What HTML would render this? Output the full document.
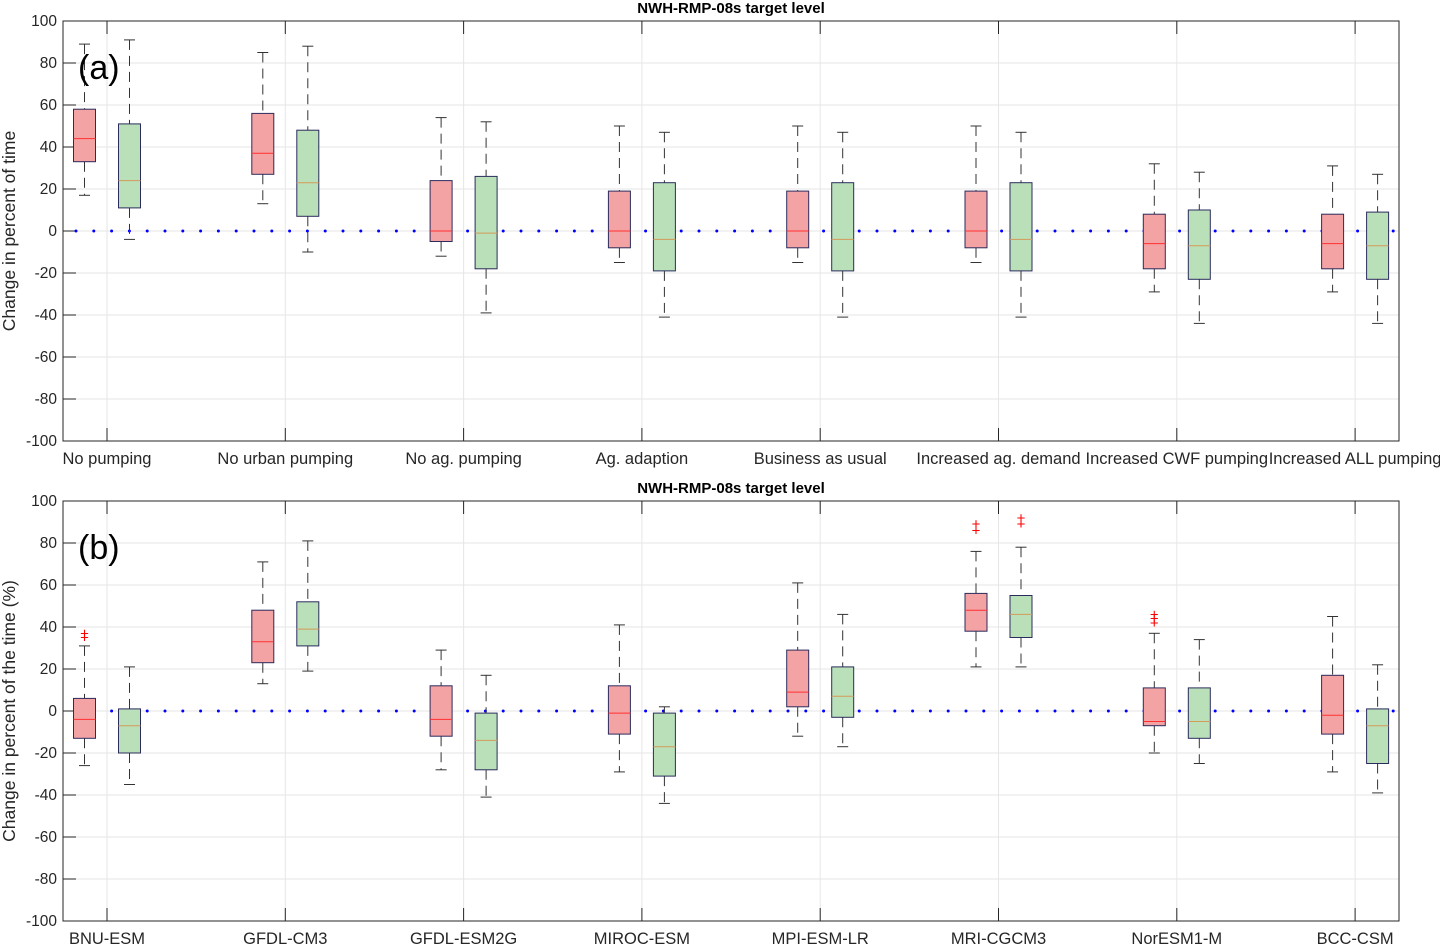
<!DOCTYPE html>
<html><head><meta charset="utf-8"><style>
body{margin:0;background:#fff;font-family:"Liberation Sans",Arial,sans-serif}
svg text{font-family:"Liberation Sans",Arial,sans-serif}
</style></head><body>
<svg id="c" width="1440" height="945" xmlns="http://www.w3.org/2000/svg"></svg>
<script>
const catsA=["No pumping","No urban pumping","No ag. pumping","Ag. adaption","Business as usual","Increased ag. demand","Increased CWF pumping","Increased ALL pumping"];
const catsB=["BNU-ESM","GFDL-CM3","GFDL-ESM2G","MIROC-ESM","MPI-ESM-LR","MRI-CGCM3","NorESM1-M","BCC-CSM"];
// [whiskerLow, q1, median, q3, whiskerHigh]
const redA=[[17,33,44,58,89],[13,27,37,56,85],[-12,-5,0,24,54],[-15,-8,0,19,50],[-15,-8,0,19,50],[-15,-8,0,19,50],[-29,-18,-6,8,32],[-29,-18,-6,8,31]];
const greenA=[[-4,11,24,51,91],[-10,7,23,48,88],[-39,-18,-1,26,52],[-41,-19,-4,23,47],[-41,-19,-4,23,47],[-41,-19,-4,23,47],[-44,-23,-7,10,28],[-44,-23,-7,9,27]];
const redB=[[-26,-13,-4,6,31],[13,23,33,48,71],[-28,-12,-4,12,29],[-29,-11,-1,12,41],[-12,2,9,29,61],[21,38,48,56,76],[-20,-7,-5,11,37],[-29,-11,-2,17,45]];
const greenB=[[-35,-20,-7,1,21],[19,31,39,52,81],[-41,-28,-14,-1,17],[-44,-31,-17,-1,2],[-17,-3,7,21,46],[21,35,46,55,78],[-25,-13,-5,11,34],[-39,-25,-7,1,22]];
const outRedB=[[35,37],[],[],[],[],[86,89],[42,44,46],[]];
const outGreenB=[[],[],[],[],[],[89,92],[],[]];
const yTicks=[-100,-80,-60,-40,-20,0,20,40,60,80,100];
const title="NWH-RMP-08s target level";

const svg=document.getElementById('c');
const NS="http://www.w3.org/2000/svg";
function mk(tag,attrs,parent){const e=document.createElementNS(NS,tag);for(const k in attrs)e.setAttribute(k,attrs[k]);(parent||svg).appendChild(e);return e;}
const L=63,R=1399,step=178.3,x0=107;
function xs(i){return x0+i*step;}

function panel(top,cats,red,green,outR,outG,ylabel,tag,name){
  const bot=top+420;
  const g=mk('g',{});
  
  
  const ys=v=>top+210-2.1*v;
  yTicks.forEach(t=>{mk('line',{x1:L,x2:R,y1:ys(t),y2:ys(t),stroke:'#e6e6e6','stroke-width':1},g);});
  cats.forEach((c,i)=>{mk('line',{x1:xs(i),x2:xs(i),y1:top,y2:bot,stroke:'#e6e6e6','stroke-width':1},g);});
  mk('rect',{x:L,y:top,width:R-L,height:420,fill:'none',stroke:'#262626','stroke-width':1},g);
  yTicks.forEach(t=>{
    mk('line',{x1:L,x2:L+13,y1:ys(t),y2:ys(t),stroke:'#262626'},g);
    const tx=mk('text',{x:L-6,y:ys(t)+5,'text-anchor':'end','font-size':15.5,fill:'#262626'},g);
    tx.textContent=t;
    
    
  });
  cats.forEach((c,i)=>{
    mk('line',{x1:xs(i),x2:xs(i),y1:top,y2:top+13,stroke:'#262626'},g);
    mk('line',{x1:xs(i),x2:xs(i),y1:bot,y2:bot-13,stroke:'#262626'},g);
    const tx=mk('text',{x:xs(i),y:bot+23,'text-anchor':'middle','font-size':16.5,fill:'#262626'},g);
    tx.textContent=c;
    
    
  });
  mk('line',{x1:L+13,x2:R,y1:ys(0),y2:ys(0),stroke:'#0000ff','stroke-width':3,'stroke-linecap':'round','stroke-dasharray':'0 17.8'},g);
  function box(cx,d,fill,medc,outs){
    const bg=mk('g',{},g);
    
    
    mk('line',{x1:cx,x2:cx,y1:ys(d[4]),y2:ys(d[3]),stroke:'#333','stroke-dasharray':'10 6'},bg);
    mk('line',{x1:cx,x2:cx,y1:ys(d[1]),y2:ys(d[0]),stroke:'#333','stroke-dasharray':'10 6'},bg);
    mk('line',{x1:cx-5.5,x2:cx+5.5,y1:ys(d[4]),y2:ys(d[4]),stroke:'#333'},bg);
    mk('line',{x1:cx-5.5,x2:cx+5.5,y1:ys(d[0]),y2:ys(d[0]),stroke:'#333'},bg);
    mk('rect',{x:cx-11,y:ys(d[3]),width:22,height:ys(d[1])-ys(d[3]),fill:fill,stroke:'#2b2b5e','stroke-width':1},bg);
    mk('line',{x1:cx-11,x2:cx+11,y1:ys(d[2]),y2:ys(d[2]),stroke:medc},bg);
    outs.forEach(o=>{
      const t=mk('text',{x:cx,y:ys(o)+5,'text-anchor':'middle','font-size':15,fill:'#ff0000'},bg);
      t.textContent='+';
      
      
    });
  }
  cats.forEach((c,i)=>{
    box(xs(i)-22.5,red[i],'#f4a3a4','#ff3030',outR[i]);
    box(xs(i)+22.5,green[i],'#b9e0b8','#d49a5a',outG[i]);
  });
  const tt=mk('text',{x:731,y:top-8,'text-anchor':'middle','font-size':15,'font-weight':'bold',fill:'#000'},g);
  tt.textContent=title;
  
  
  const yl=mk('text',{x:0,y:0,'text-anchor':'middle','font-size':17.5,fill:'#262626',transform:`translate(15,${top+210}) rotate(-90)`},g);
  yl.textContent=ylabel;
  
  
  const pl=mk('text',{x:78,y:top+58,'font-size':34,fill:'#000'},g);
  pl.textContent=tag;
  
  
}
panel(21,catsA,redA,greenA,catsA.map(()=>[]),catsA.map(()=>[]),"Change in percent of time","(a)","panel-a");
panel(501,catsB,redB,greenB,outRedB,outGreenB,"Change in percent of the time (%)","(b)","panel-b");
</script>
</body></html>
